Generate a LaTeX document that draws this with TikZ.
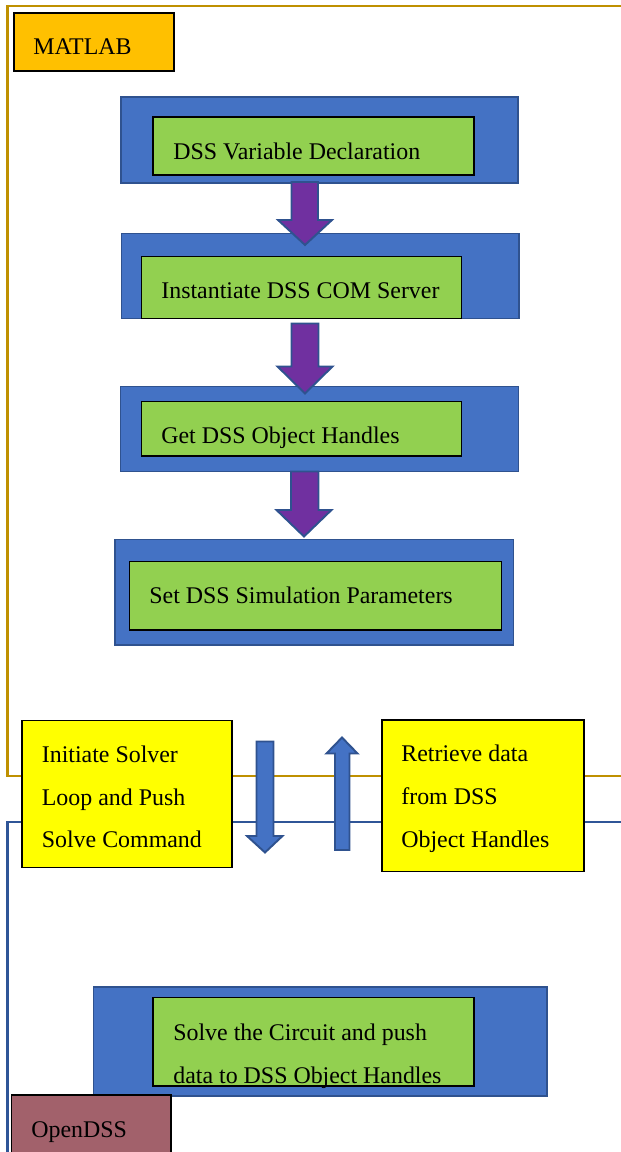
\documentclass[tikz,border=0pt]{standalone}
\usepackage{fontspec}
\setmainfont{Liberation Serif}
\usetikzlibrary{positioning}

\definecolor{boxblue}{HTML}{4472C4}
\definecolor{blueedge}{HTML}{2F528F}
\definecolor{boxgreen}{HTML}{92D050}
\definecolor{arrowpurple}{HTML}{7030A0}
\definecolor{matlabgold}{HTML}{FFC000}
\definecolor{framegold}{HTML}{BF9000}
\definecolor{frameblue}{HTML}{2F5597}
\definecolor{dssred}{HTML}{A2616B}
\definecolor{notepaper}{HTML}{FFFF00}

\begin{document}
\begin{tikzpicture}[
	font=\fontsize{13.6}{24.4}\selectfont,
	bluebox/.style={draw=blueedge, fill=boxblue, line width=1.1pt, inner sep=0pt},
	greenbox/.style={draw=black, fill=boxgreen, line width=0.8pt, inner sep=0pt},
	yellowbox/.style={draw=black, fill=notepaper, line width=0.8pt, inner sep=0pt},
	tagbox/.style={draw=black, line width=0.8pt, inner sep=0pt},
	txt/.style={anchor=base west, inner sep=0pt, align=left},
	purplearrow/.style={draw=blueedge, fill=arrowpurple, line width=1.1pt},
	bluearrow/.style={draw=blueedge, fill=boxblue, line width=1.1pt}]
	\useasboundingbox (0, 0) rectangle (12.42, 23.04);
	% Frames:
	\draw[framegold, line width=1.2pt] (12.42, 22.92) -- (0.15, 22.92) -- (0.15, 7.52) -- (12.42, 7.52);
	\draw[frameblue, line width=1.2pt] (12.42, 6.60) -- (0.15, 6.60) -- (0.15, 0);
	% MATLAB side:
	\node[tagbox, fill=matlabgold, minimum width=3.2cm, minimum height=1.16cm] (matlab) at (1.88, 22.20) {};
	\node[txt] (matlabtxt) at (0.66, 21.94) {MATLAB};
	\node[bluebox, minimum width=7.94cm, minimum height=1.72cm] (declout) at (6.39, 20.24) {};
	\node[greenbox, minimum width=6.42cm, minimum height=1.16cm] (decl) at (6.27, 20.12) {};
	\node[txt] (decltxt) at (3.46, 19.84) {DSS Variable Declaration};
	\node[bluebox, minimum width=7.95cm, minimum height=1.70cm] (comout) at (6.405, 17.52) {};
	\node[greenbox, minimum width=6.40cm, minimum height=1.24cm] (com) at (6.03, 17.29) {};
	\node[txt] (comtxt) at (3.22, 17.06) {Instantiate DSS COM Server};
	\node[bluebox, minimum width=7.96cm, minimum height=1.70cm] (handout) at (6.39, 14.46) {};
	\node[greenbox, minimum width=6.40cm, minimum height=1.09cm] (hand) at (6.03, 14.465) {};
	\node[txt] (handtxt) at (3.22, 14.16) {Get DSS Object Handles};
	\node[bluebox, minimum width=7.97cm, minimum height=2.11cm] (simout) at (6.285, 11.195) {};
	\node[greenbox, minimum width=7.44cm, minimum height=1.37cm] (sim) at (6.31, 11.125) {};
	\node[txt] (simtxt) at (2.98, 10.97) {Set DSS Simulation Parameters};
	\draw[purplearrow] (5.83, 19.40) -- (6.36, 19.40) -- (6.36, 18.64) -- (6.64, 18.64) -- (6.10, 18.14) -- (5.56, 18.64) -- (5.83, 18.64) -- cycle;
	\draw[purplearrow] (5.83, 16.57) -- (6.37, 16.57) -- (6.37, 15.71) -- (6.65, 15.71) -- (6.10, 15.17) -- (5.55, 15.71) -- (5.83, 15.71) -- cycle;
	\draw[purplearrow] (5.82, 13.61) -- (6.37, 13.61) -- (6.37, 12.84) -- (6.63, 12.84) -- (6.08, 12.31) -- (5.53, 12.84) -- (5.82, 12.84) -- cycle;
	% Exchange between the two (base = last line):
	\node[yellowbox, minimum width=4.20cm, minimum height=2.94cm] (solver) at (2.54, 7.16) {};
	\node[txt] (solvertxt) at (0.83, 6.08) {Initiate Solver\\Loop and Push\\Solve Command};
	\node[yellowbox, minimum width=4.04cm, minimum height=3.03cm] (fetch) at (9.66, 7.125) {};
	\node[txt] (fetchtxt) at (8.02, 6.09) {Retrieve data\\from DSS\\Object Handles};
	\draw[bluearrow] (5.13, 8.21) -- (5.47, 8.21) -- (5.47, 6.32) -- (5.65, 6.32) -- (5.30, 5.99) -- (4.94, 6.32) -- (5.13, 6.32) -- cycle;
	\draw[bluearrow] (6.70, 6.04) -- (6.99, 6.04) -- (6.99, 7.97) -- (7.15, 7.97) -- (6.84, 8.29) -- (6.53, 7.97) -- (6.70, 7.97) -- cycle;
	% OpenDSS side:
	\node[bluebox, minimum width=9.07cm, minimum height=2.18cm] (solveout) at (6.405, 2.21) {};
	\node[greenbox, minimum width=6.42cm, minimum height=1.77cm] (solve) at (6.27, 2.205) {};
	\node[txt] (solvetxt) at (3.46, 1.37) {Solve the Circuit and push\\data to DSS Object Handles};
	\node[tagbox, fill=dssred, minimum width=3.19cm, minimum height=1.30cm] (opendss) at (1.825, 0.49) {};
	\node[txt] (opendsstxt) at (0.62, 0.29) {OpenDSS};
\end{tikzpicture}
\end{document}
